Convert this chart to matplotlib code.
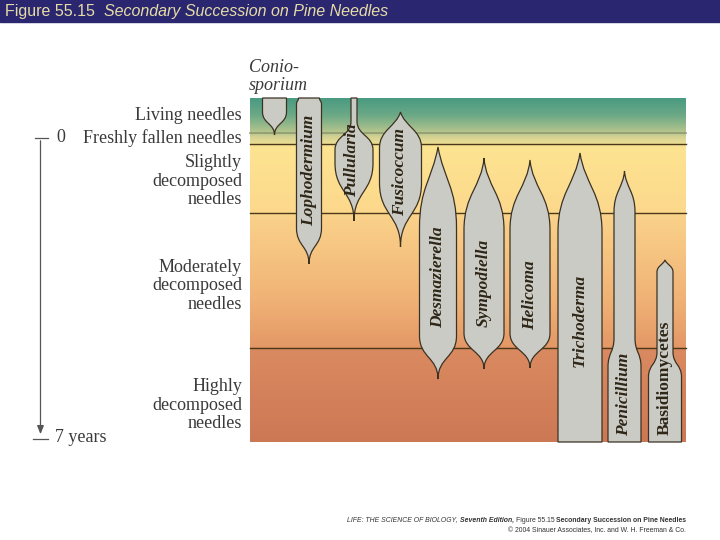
import matplotlib.pyplot as plt
import numpy as np
from matplotlib.path import Path
from matplotlib.patches import PathPatch
from matplotlib.colors import LinearSegmentedColormap

# depth scale in figure pixels: 98 = top of litter, 442 = bottom (7 years)
stage_names = ['Living needles', 'Freshly fallen needles',
               'Slightly\ndecomposed\nneedles', 'Moderately\ndecomposed\nneedles',
               'Highly\ndecomposed\nneedles']
stage_label_y = [115, 138, 181, 286, 405]
band_lines = [144, 213, 348]
faint_line = 133

fungi = ['Coniosporium', 'Lophodermium', 'Pullularia', 'Fusicoccum', 'Desmazierella',
         'Sympodiella', 'Helicoma', 'Trichoderma', 'Penicillium', 'Basidiomycetes']
centers = [274.5, 309, 354, 400.5, 438, 484, 530, 580, 624.5, 665]
# (depth, half width) knots of each occurrence profile
profiles = [
    [(98, 12), (112, 12), (135, 0)],
    [(98, 10.5), (104, 12.5), (228, 12.5), (264, 0)],
    [(98, 3), (121, 3), (150, 19), (163, 19), (221, 0)],
    [(112, 0), (148, 21), (183, 21), (247, 0)],
    [(147, 0), (228, 18.5), (336, 18.5), (379, 0)],
    [(158, 0), (230, 20), (333, 20), (369, 0)],
    [(160, 0), (230, 20), (333, 20), (368, 0)],
    [(153, 0), (232, 22), (442, 22)],
    [(171, 0), (212, 10.5), (338, 10.5), (367, 16.5), (442, 16.5)],
    [(260, 0), (272, 8), (352, 8), (377, 16.5), (442, 16.5)],
]
# how cone-like the top taper is (0 = thin spike, 1 = straight cone)
top_cone = [0.3, 0.3, 0.3, 0.5, 0.8, 0.3, 0.35, 0.55, 0.3, 0.6]
label_y = [None, 170, 160, 172, 277, 283, 295, 320, 394, 378]
label_x = [None, 309, 352, 400, 438, 484, 530, 580, 624, 665]

grad_stops = [(98, (75, 155, 130)), (115, (110, 170, 135)), (132, (185, 198, 142)),
              (136, (212, 210, 146)), (143, (235, 222, 148)), (146, (253, 228, 145)),
              (212, (252, 216, 140)), (215, (250, 210, 138)), (300, (240, 178, 118)),
              (347, (228, 152, 102)), (350, (218, 138, 96)), (442, (205, 120, 85))]

serif = 'Liberation Serif'
ink = '#2e2616'
grey_txt = '#3a3a3a'

fig = plt.figure(figsize=(7.2, 5.4), dpi=100)
ax = fig.add_axes([0, 0, 1, 1])
ax.set_xlim(0, 720)
ax.set_ylim(540, 0)
ax.axis('off')
renderer = fig.canvas.get_renderer()


def run_text(x, y, pieces, size, align='left'):
    # place differently styled pieces one after another on a line
    arts = [ax.text(0, y, s, fontsize=size, va='center', **kw) for s, kw in pieces]
    widths = [a.get_window_extent(renderer).width for a in arts]
    start = x - sum(widths) if align == 'right' else x
    for a, w in zip(arts, widths):
        a.set_x(start)
        start += w


# title bar
ax.fill_between([0, 720], 0, 22, color='#2a2670', zorder=1)
run_text(5, 11.5, [('Figure 55.15  ', dict(color='#e6dca6', family='Liberation Sans')),
                   ('Secondary Succession on Pine Needles',
                    dict(color='#e6dca6', family='Liberation Sans', style='italic'))], 11.5)

# background gradient
y0, y1 = 98, 442
pos = [(y - y0) / (y1 - y0) for y, c in grad_stops]
cols = [tuple(v / 255 for v in c) for y, c in grad_stops]
cmap = LinearSegmentedColormap.from_list('litter', list(zip(pos, cols)))
ax.imshow(np.linspace(0, 1, 400).reshape(-1, 1), cmap=cmap, aspect='auto',
          extent=[250, 686, y1, y0], zorder=1)
for y in band_lines:
    ax.plot([250, 686], [y, y], color='#4a3818', lw=1.0, zorder=2)
ax.plot([250, 686], [faint_line, faint_line], color='#8e9a70', lw=1.2, zorder=2)


def half(knots, cx, side, cone, from_top):
    verts = [(cx + side * knots[0][1], knots[0][0])]
    codes = []
    for i, ((ya, wa), (yb, wb)) in enumerate(zip(knots[:-1], knots[1:])):
        if wa == wb:
            verts.append((cx + side * wb, yb))
            codes.append(Path.LINETO)
            continue
        dy = yb - ya
        m = 0.5 * dy
        c1 = (cx + side * wa, ya + m)
        c2 = (cx + side * wb, yb - m)
        is_top = (from_top and i == 0 and wa == 0) or (not from_top and i == len(knots) - 2 and wb == 0)
        if is_top and from_top:
            c1 = (cx + side * cone * 0.4 * wb, ya + 0.4 * dy)
        elif is_top:
            c2 = (cx + side * cone * 0.4 * wa, yb - 0.4 * dy)
        verts += [c1, c2, (cx + side * wb, yb)]
        codes += [Path.CURVE4] * 3
    return verts, codes


for name, cx, prof, cone in zip(fungi, centers, profiles, top_cone):
    rv, rc = half(prof, cx, 1, cone, True)
    lv, lc = half(prof[::-1], cx, -1, cone, False)
    verts = rv + lv + [rv[0]]
    codes = [Path.MOVETO] + rc + [Path.LINETO] + lc + [Path.CLOSEPOLY]
    ax.add_patch(PathPatch(Path(verts, codes), facecolor='#cbcbc6',
                           edgecolor='#3c3222', lw=0.9, zorder=3))

for name, x, y in zip(fungi, label_x, label_y):
    if y is None:
        continue
    st = 'normal' if name == 'Basidiomycetes' else 'italic'
    ax.text(x, y, name, rotation=90, ha='center', va='center', fontsize=12.5,
            family=serif, style=st, weight='bold', color=ink, zorder=4)

ax.text(249, 67, 'Conio-', fontsize=13, family=serif, style='italic',
        color=grey_txt, va='center', ha='left')
ax.text(249, 85, 'sporium', fontsize=13, family=serif, style='italic',
        color=grey_txt, va='center', ha='left')

for lab, y in zip(stage_names, stage_label_y):
    ax.text(242, y, lab, ha='right', va='center', fontsize=13, family=serif,
            color=grey_txt, linespacing=1.1)

# time arrow
ax.plot([35, 48], [138, 138], color='#555555', lw=0.9)
ax.plot([33, 48], [438.5, 438.5], color='#555555', lw=0.9)
ax.annotate('', xy=(40.5, 437), xytext=(40.5, 138),
            arrowprops=dict(arrowstyle='-|>,head_length=0.5,head_width=0.2',
                            color='#555555', lw=0.9))
ax.text(56, 138, '0', fontsize=13, family=serif, color=grey_txt, va='center')
ax.text(55, 438, '7 years', fontsize=13, family=serif, color=grey_txt, va='center')

# credit line
sans = 'Liberation Sans'
run_text(686, 520, [('LIFE: THE SCIENCE OF BIOLOGY, ', dict(family=sans, style='italic', color='#333333')),
                    ('Seventh Edition, ', dict(family=sans, style='italic', weight='bold', color='#333333')),
                    ('Figure 55.15 ', dict(family=sans, color='#333333')),
                    ('Secondary Succession on Pine Needles', dict(family=sans, weight='bold', color='#333333'))],
         4.95, align='right')
ax.text(686, 531, '\u00a9 2004 Sinauer Associates, Inc. and W. H. Freeman & Co.',
        ha='right', va='center', fontsize=4.95, family=sans, color='#333333')

fig.savefig('out.png', dpi=100)
